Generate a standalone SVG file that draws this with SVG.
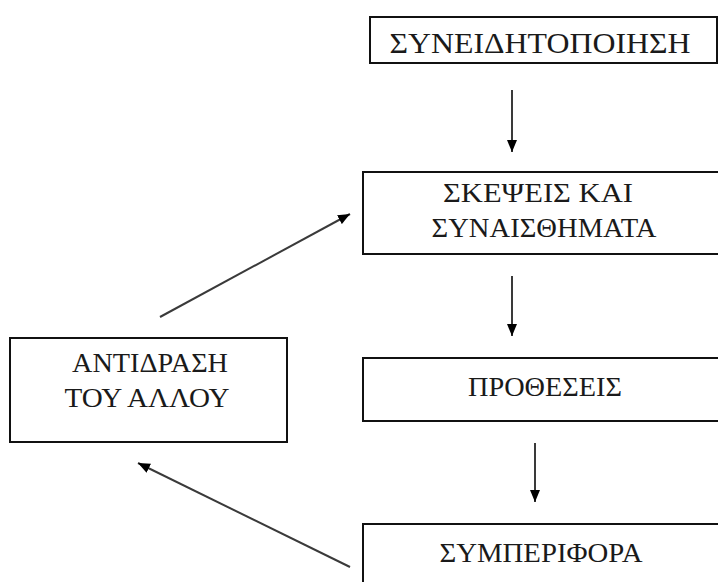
<svg xmlns="http://www.w3.org/2000/svg" width="718" height="582" viewBox="0 0 718 582">
<style>
.box{fill:#fff;stroke:#111;stroke-width:2}
.t{font-family:"Liberation Serif","Times New Roman",serif;fill:#1a1a1a;text-anchor:middle}
.s{font-size:27px}
.big{font-size:30px}
.c{stroke:#3a3a3a;stroke-width:2;fill:none;marker-end:url(#ah)}
</style>
<defs>
<marker id="ah" markerUnits="userSpaceOnUse" markerWidth="13" markerHeight="11" refX="12" refY="5.5" orient="auto" viewBox="0 0 13 11">
<path d="M0,0.5 L12,5.5 L0,10.5 z" fill="#000"/>
</marker>
</defs>
<rect width="718" height="582" fill="#fff"/>
<g id="connectors">
<line class="c" x1="512" y1="90" x2="512" y2="152"/>
<line class="c" x1="512" y1="276" x2="512" y2="336"/>
<line class="c" x1="535" y1="443" x2="535" y2="502"/>
<line class="c" x1="160" y1="317" x2="350" y2="214"/>
<line class="c" x1="350" y1="567" x2="138" y2="463"/>
</g>
<g id="n1">
<rect class="box" x="370" y="17" width="347" height="46"/>
<text class="t big" x="540" y="53" textLength="301" lengthAdjust="spacingAndGlyphs">ΣΥΝΕΙΔΗΤΟΠΟΙΗΣΗ</text>
</g>
<g id="n2">
<rect class="box" x="363" y="172" width="370" height="82"/>
<text class="t s" x="538" y="202" textLength="190" lengthAdjust="spacingAndGlyphs">ΣΚΕΨΕΙΣ ΚΑΙ</text>
<text class="t s" x="544" y="237" textLength="225" lengthAdjust="spacingAndGlyphs">ΣΥΝΑΙΣΘΗΜΑΤΑ</text>
</g>
<g id="n3">
<rect class="box" x="363" y="358" width="370" height="63"/>
<text class="t s" x="545" y="396" textLength="154" lengthAdjust="spacingAndGlyphs">ΠΡΟΘΕΣΕΙΣ</text>
</g>
<g id="n4">
<rect class="box" x="363" y="524" width="370" height="80"/>
<text class="t s" x="541" y="562" textLength="203" lengthAdjust="spacingAndGlyphs">ΣΥΜΠΕΡΙΦΟΡΑ</text>
</g>
<g id="n5">
<rect class="box" x="10" y="338" width="277" height="104"/>
<text class="t s" x="150" y="372" textLength="156" lengthAdjust="spacingAndGlyphs">ΑΝΤΙΔΡΑΣΗ</text>
<text class="t s" x="147" y="407" textLength="165" lengthAdjust="spacingAndGlyphs">ΤΟΥ ΑΛΛΟΥ</text>
</g>
</svg>
